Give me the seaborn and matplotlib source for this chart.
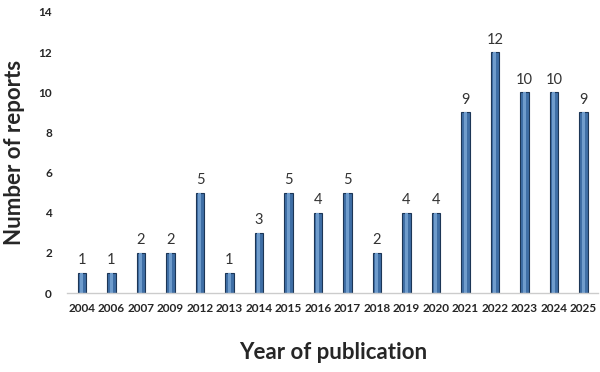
import matplotlib.pyplot as plt
import seaborn as sns
import pandas as pd

years = ["2004", "2006", "2007", "2009", "2012", "2013", "2014", "2015", "2016",
         "2017", "2018", "2019", "2020", "2021", "2022", "2023", "2024", "2025"]
reports = [1, 1, 2, 2, 5, 1, 3, 5, 4, 5, 2, 4, 4, 9, 12, 10, 10, 9]

sns.set_style("white")
plt.rcParams['font.family'] = ['Lato', 'DejaVu Sans']

df = pd.DataFrame({"Year": years, "Reports": reports})

fig = plt.figure(figsize=(6, 3.72), dpi=100)
ax = fig.add_axes([0.112, 0.212, 0.885, 0.756])

sns.barplot(data=df, x="Year", y="Reports", color="#3f6fa6", width=0.3,
            edgecolor="#1c3656", linewidth=0.8, saturation=1, ax=ax)
# lighter stripe to fake the cylinder shading
sns.barplot(data=df, x="Year", y="Reports", color="#6f9ccc", width=0.1,
            linewidth=0, saturation=1, ax=ax)

ax.bar_label(ax.containers[0], labels=[str(v) for v in reports], padding=4,
             fontsize=10.5, color="#333333")

ax.set_ylim(0, 14)
ax.set_yticks(range(0, 15, 2))
ax.set_xlim(-0.5, len(years) - 0.5)
ax.tick_params(axis="x", length=0, labelsize=8.5, pad=7)
ax.tick_params(axis="y", length=0, labelsize=8.5, pad=11)
for lbl in ax.get_xticklabels() + ax.get_yticklabels():
    lbl.set_fontweight("bold")

for s in ["top", "right", "left"]:
    ax.spines[s].set_visible(False)
ax.spines["bottom"].set_color("#cccccc")
ax.spines["bottom"].set_linewidth(1)

ax.set_xlabel("Year of publication", fontsize=16, fontweight="bold", labelpad=20)
ax.set_ylabel("Number of reports", fontsize=16, fontweight="bold")
ax.yaxis.set_label_coords(-0.08, 0.5)

fig.savefig("out.png", dpi=100)
